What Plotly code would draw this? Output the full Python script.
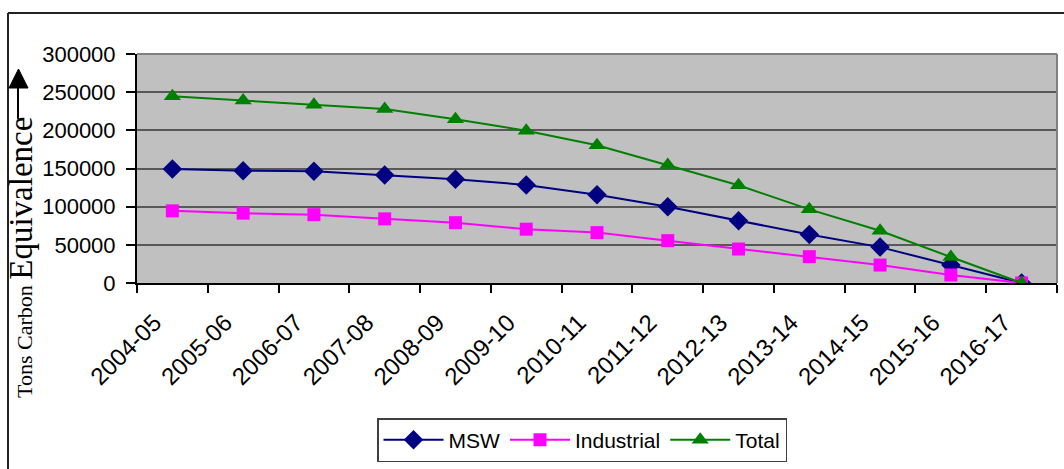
import plotly.graph_objects as go

# Financial years on the category axis
years = ["2004-05", "2005-06", "2006-07", "2007-08", "2008-09", "2009-10", "2010-11",
         "2011-12", "2012-13", "2013-14", "2014-15", "2015-16", "2016-17"]

# Emissions in tons of carbon equivalence
msw = [149500, 147000, 146500, 141500, 136000, 128500, 115500, 100000, 81500, 63500, 47000, 23500, 0]
industrial = [94500, 91500, 89500, 84000, 79000, 70500, 66000, 55500, 44500, 34500, 23500, 10500, 0]
total = [244500, 239000, 233500, 228000, 214500, 199500, 180500, 154500, 128000, 96500, 68500, 34000, 0]

y_ticks = [0, 50000, 100000, 150000, 200000, 250000, 300000]

W, H = 1064, 469
L, R, T, B = 137, 1057, 54, 283  # plot-area edges in pixels


def px(x):
    return (x - L) / (R - L)


def py(y):
    return (B - y) / (B - T)


fig = go.Figure()
fig.add_trace(go.Scatter(x=years, y=msw, name="MSW", mode="lines+markers",
                         line=dict(color="#000080", width=2),
                         marker=dict(symbol="diamond", size=15, color="#000080")))
fig.add_trace(go.Scatter(x=years, y=industrial, name="Industrial", mode="lines+markers",
                         line=dict(color="#FF00FF", width=2),
                         marker=dict(symbol="square", size=13, color="#FF00FF")))
fig.add_trace(go.Scatter(x=years, y=total, name="Total", mode="lines+markers",
                         line=dict(color="#008000", width=2),
                         marker=dict(symbol="triangle-up", size=15, color="#008000")))

y_font = dict(family="Liberation Sans, Arial", size=22, color="#000000")
x_font = dict(family="Liberation Sans, Arial", size=24, color="#000000")

fig.update_xaxes(type="category", range=[-0.5, len(years) - 0.5],
                 showgrid=False, zeroline=False,
                 showline=True, linecolor="#000000", linewidth=2,
                 ticks="outside", tickson="boundaries", ticklen=8, tickwidth=1.5,
                 tickcolor="#000000", tickangle=-45, tickfont=x_font,
                 ticklabelshift=-18, ticklabelstandoff=14)

fig.update_yaxes(range=[0, 300000], tickvals=y_ticks, ticktext=[str(v) for v in y_ticks],
                 showgrid=True, gridcolor="#585858", gridwidth=2, zeroline=False,
                 showline=True, linecolor="#000000", linewidth=2,
                 ticks="outside", ticklen=9, tickwidth=1.5, tickcolor="#000000",
                 tickfont=y_font, ticklabelstandoff=6)

shapes = [
    # top and right edges of the plot area
    dict(type="line", xref="paper", yref="paper", x0=0, x1=1, y0=1, y1=1,
         line=dict(color="#808080", width=2)),
    dict(type="line", xref="paper", yref="paper", x0=1, x1=1, y0=0, y1=1,
         line=dict(color="#808080", width=2)),
    # chart frame
    dict(type="line", xref="paper", yref="paper", x0=px(8), x1=px(W + 5), y0=py(13), y1=py(13),
         line=dict(color="#222222", width=2)),
    dict(type="line", xref="paper", yref="paper", x0=px(8), x1=px(8), y0=py(13), y1=py(H + 5),
         line=dict(color="#222222", width=2)),
    # upward arrow beside the axis title
    dict(type="line", xref="paper", yref="paper", x0=px(18), x1=px(18), y0=py(119), y1=py(86),
         line=dict(color="#000000", width=2)),
    dict(type="path", xref="paper", yref="paper",
         path=f"M {px(9)} {py(88)} L {px(28)} {py(88)} L {px(18.5)} {py(69)} Z",
         fillcolor="#000000", line=dict(color="#000000", width=1)),
]

annotations = [
    dict(xref="paper", yref="paper", x=px(21), y=py(258), showarrow=False, textangle=-90,
         xanchor="center", yanchor="middle",
         font=dict(family="Liberation Serif, Times New Roman", color="#000000", size=33),
         text="<span style='font-size:22px'>Tons Carbon </span>Equivalence"),
]

fig.update_layout(
    width=W, height=H, autosize=False,
    margin=dict(l=L, r=W - R, t=T, b=H - B, pad=0),
    paper_bgcolor="#FFFFFF", plot_bgcolor="#C0C0C0",
    shapes=shapes, annotations=annotations,
    showlegend=True,
    legend=dict(orientation="h", x=px(377), y=py(418), xanchor="left", yanchor="top",
                bgcolor="#FFFFFF", bordercolor="#404040", borderwidth=1.5,
                font=dict(family="Liberation Sans, Arial", size=21, color="#000000"),
                itemwidth=60, tracegroupgap=0),
)

fig.write_html("out.html")
